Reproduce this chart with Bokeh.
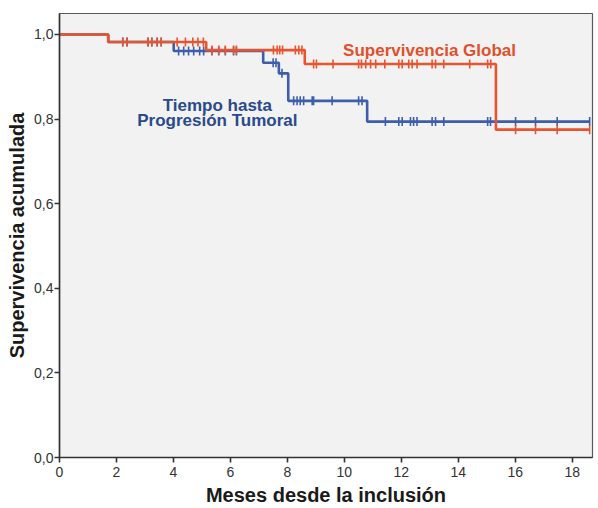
import numpy as np
from bokeh.plotting import figure
from bokeh.models import Range1d, FixedTicker, CustomJSTickFormatter, Label
from bokeh.embed import file_html
from bokeh.resources import INLINE

# Overall survival (Supervivencia Global): event times in months and survival after each event
os_event_times = [1.71, 5.15, 8.61, 15.32]
os_event_surv = [0.982, 0.963, 0.930, 0.775]
os_censored = [2.22, 2.37, 3.11, 3.24, 3.43, 3.57, 4.13, 4.42, 4.68, 4.86, 5.05,
               5.35, 5.59, 5.82, 6.11, 6.21, 7.51, 7.64, 7.73, 7.83, 8.28, 8.40, 8.51,
               8.92, 9.02, 9.60, 10.50, 10.60, 10.75, 10.92, 11.10, 11.42,
               11.91, 12.03, 12.26, 12.38, 12.55, 13.08, 13.20, 13.49, 14.40, 15.03, 15.14,
               16.01, 16.71, 17.47, 18.61]
os_last = 18.61

# Time to tumour progression (Tiempo hasta Progresión Tumoral)
ttp_event_times = [1.71, 4.01, 7.15, 7.70, 8.03, 10.80]
ttp_event_surv = [0.982, 0.961, 0.933, 0.908, 0.843, 0.794]
ttp_censored = [2.22, 2.37, 3.11, 3.24, 3.43, 3.57,
                4.18, 4.36, 4.53, 4.71, 4.92, 5.06, 5.35, 5.59, 5.82, 6.11, 6.21,
                7.50, 7.60, 7.81, 8.22, 8.34, 8.45, 8.57, 8.87, 8.92, 9.57, 10.50, 10.62,
                11.44, 11.91, 12.03, 12.32, 12.43, 12.55, 13.08, 13.20, 13.49,
                15.03, 15.13, 16.01, 16.71, 17.47, 18.61]
ttp_last = 18.61

x_ticks = [0, 2, 4, 6, 8, 10, 12, 14, 16, 18]
y_ticks = [0.0, 0.2, 0.4, 0.6, 0.8, 1.0]

RED = "#e8542f"
BLUE = "#3e5eab"
FONT = "Liberation Sans"


def step_coords(times, surv, last):
    xs = [0.0] + list(times) + [last]
    ys = [1.0] + list(surv) + [surv[-1]]
    return xs, ys


def surv_at(t, times, surv):
    s = 1.0
    for ti, si in zip(times, surv):
        if t >= ti:
            s = si
    return s


p = figure(width=598, height=508, output_backend="svg", toolbar_location=None,
           x_range=Range1d(0, 18.71), y_range=Range1d(0, 1.0495),
           min_border_left=59, min_border_right=6, min_border_top=13, min_border_bottom=50)

p.background_fill_color = "#f2f2f2"
p.border_fill_color = "white"
p.outline_line_color = "#5a5a5a"
p.outline_line_width = 1.2
p.xgrid.visible = False
p.ygrid.visible = False

for ax in (p.xaxis[0], p.yaxis[0]):
    ax.axis_line_color = "#333333"
    ax.axis_line_width = 1.6
    ax.major_tick_line_color = "#333333"
    ax.major_tick_line_width = 1.6
    ax.major_tick_in = 0
    ax.major_tick_out = 5
    ax.minor_tick_line_color = None
    ax.major_label_text_font = FONT
    ax.major_label_text_font_size = "14px"
    ax.major_label_text_color = "#333333"
    ax.axis_label_text_font = FONT
    ax.axis_label_text_font_style = "bold"
    ax.axis_label_text_font_size = "20px"
    ax.axis_label_text_color = "#1a1a1a"

p.xaxis.ticker = FixedTicker(ticks=x_ticks)
p.yaxis.ticker = FixedTicker(ticks=y_ticks)
p.yaxis.formatter = CustomJSTickFormatter(code="return tick.toFixed(1).replace('.', ',');")
p.xaxis.axis_label = "Meses desde la inclusión"
p.yaxis.axis_label = "Supervivencia acumulada"
p.xaxis.major_label_standoff = 4
p.yaxis.major_label_standoff = 1
p.xaxis.axis_label_standoff = 4
p.yaxis.axis_label_standoff = 3

# Progression curve first, overall survival drawn on top
for times, surv, cens, last, color in [
    (ttp_event_times, ttp_event_surv, ttp_censored, ttp_last, BLUE),
    (os_event_times, os_event_surv, os_censored, os_last, RED),
]:
    xs, ys = step_coords(times, surv, last)
    p.step(xs, ys, mode="after", line_color=color, line_width=2.6)
    cy = [surv_at(t, times, surv) for t in cens]
    p.scatter(cens, cy, marker="dash", angle=np.pi / 2, size=9,
              line_color=color, line_width=1.6)

p.add_layout(Label(x=12.99, y=0.963, text="Supervivencia Global", text_align="center",
                   text_baseline="alphabetic", text_font=FONT, text_font_style="bold",
                   text_font_size="17px", text_color="#e0502c"))
p.add_layout(Label(x=5.54, y=0.833, text="Tiempo hasta", text_align="center",
                   text_baseline="alphabetic", text_font=FONT, text_font_style="bold",
                   text_font_size="17px", text_color="#2a4a8c"))
p.add_layout(Label(x=5.54, y=0.796, text="Progresión Tumoral", text_align="center",
                   text_baseline="alphabetic", text_font=FONT, text_font_style="bold",
                   text_font_size="17px", text_color="#2a4a8c"))

open("out.html", "w").write(file_html(p, INLINE))
